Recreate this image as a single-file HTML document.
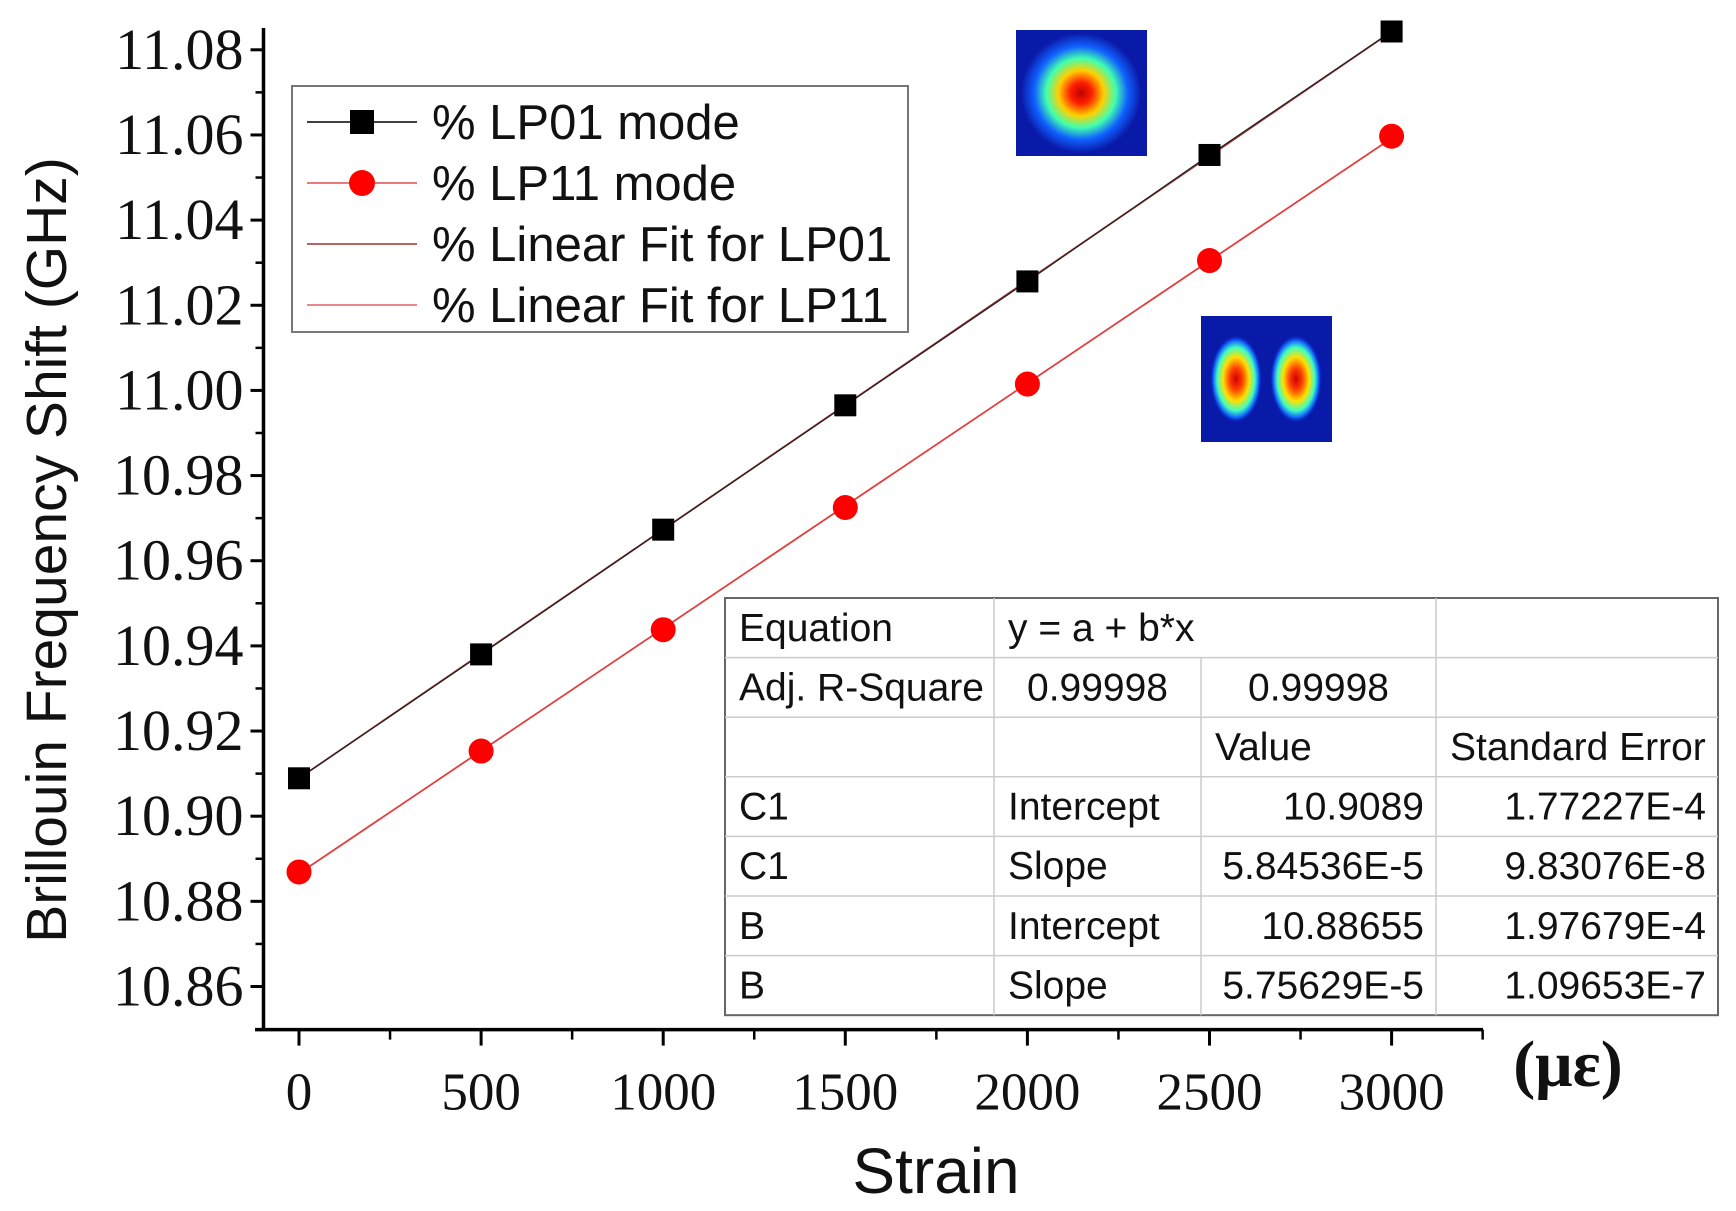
<!DOCTYPE html>
<html><head><meta charset="utf-8"><style>
body{margin:0;background:#fff;}
svg{display:block;}
</style></head><body>
<svg id="chart" width="1736" height="1211" viewBox="0 0 1736 1211" xmlns="http://www.w3.org/2000/svg">
<defs>
<radialGradient id="g01" cx="50%" cy="50%" r="50%">
<stop offset="0" stop-color="#c00000"/><stop offset="0.18" stop-color="#ff2000"/><stop offset="0.38" stop-color="#ffd000"/><stop offset="0.58" stop-color="#40ffb0"/><stop offset="0.78" stop-color="#1060ff"/><stop offset="1" stop-color="#0a1aa8"/>
</radialGradient>
<radialGradient id="g11" cx="50%" cy="50%" r="50%">
<stop offset="0" stop-color="#d00000"/><stop offset="0.25" stop-color="#ff4000"/><stop offset="0.5" stop-color="#ffe000"/><stop offset="0.72" stop-color="#40ffc0"/><stop offset="0.88" stop-color="#1060ff"/><stop offset="1" stop-color="#0a1aa8" stop-opacity="0"/>
</radialGradient>
</defs>
<g id="axes"></g>
<g id="marks"></g>
<text x="0" y="0" transform="translate(66,550) rotate(-90)" text-anchor="middle" font-family="Liberation Sans, sans-serif" font-size="57" fill="#111">Brillouin Frequency Shift (GHz)</text>
<text x="936" y="1193" text-anchor="middle" font-family="Liberation Sans, sans-serif" font-size="64" fill="#111">Strain</text>
<text x="1568" y="1086" text-anchor="middle" font-family="Liberation Serif, serif" font-weight="bold" font-size="66" fill="#111">(με)</text>
<g>
<rect x="1016" y="30" width="131" height="126" fill="#0a1aa8"/>
<circle cx="1081" cy="93" r="60" fill="url(#g01)"/>
</g>
<g>
<rect x="1201" y="316" width="131" height="126" fill="#0a1aa8"/>
<ellipse cx="1236" cy="379" rx="26" ry="44" fill="url(#g11)"/>
<ellipse cx="1296" cy="379" rx="26" ry="44" fill="url(#g11)"/>
</g>
<g font-family="Liberation Sans, sans-serif" font-size="49" fill="#111">
<rect x="292" y="86" width="616" height="246" fill="#fff" stroke="#777" stroke-width="2"/>
<line x1="307" y1="122" x2="417" y2="122" stroke="#000" stroke-width="1.5"/>
<rect x="350" y="110" width="24" height="24" fill="#000"/>
<text x="432" y="139">% LP01 mode</text>
<line x1="307" y1="183" x2="417" y2="183" stroke="#e05050" stroke-width="1.5"/>
<circle cx="362" cy="183" r="13" fill="#ff0000"/>
<text x="432" y="200">% LP11 mode</text>
<line x1="307" y1="244" x2="417" y2="244" stroke="#a03030" stroke-width="1.5"/>
<text x="432" y="261">% Linear Fit for LP01</text>
<line x1="307" y1="305" x2="417" y2="305" stroke="#e06060" stroke-width="1.5"/>
<text x="432" y="322">% Linear Fit for LP11</text>
</g>
<g id="table" font-family="Liberation Sans, sans-serif" font-size="39" fill="#111"></g>
</svg>
<script>
const xValues=[0,500,1000,1500,2000,2500,3000];
const lp01Values=[10.9089,10.9380,10.9673,10.9965,11.0256,11.0553,11.0843];
const lp11Values=[10.8869,10.9153,10.9438,10.9725,11.0015,11.0305,11.0597];
const fit01=[10.9089,5.84536e-5];
const fit11=[10.88655,5.75629e-5];
const xTicks=[0,500,1000,1500,2000,2500,3000];
const yTicks=[10.86,10.88,10.90,10.92,10.94,10.96,10.98,11.00,11.02,11.04,11.06,11.08];
const tableRows=[["Equation","y = a + b*x","",""],["Adj. R-Square","0.99998","0.99998",""],["","","Value","Standard Error"],["C1","Intercept","10.9089","1.77227E-4"],["C1","Slope","5.84536E-5","9.83076E-8"],["B","Intercept","10.88655","1.97679E-4"],["B","Slope","5.75629E-5","1.09653E-7"]];
const NS="http://www.w3.org/2000/svg";
function xs(v){return 299+(v-0)*(1391.6-299)/3000;}
function ys(v){return 986.5-(v-10.86)*(986.5-49.8)/0.22;}
function mk(tag,attrs,parent,text){const el=document.createElementNS(NS,tag);for(const k in attrs)el.setAttribute(k,attrs[k]);if(text!==undefined)el.textContent=text;parent.appendChild(el);return el;}
const ax=document.getElementById('axes');
const axisY=1029.6, axisX=263.5;
let e=mk('line',{x1:axisX,y1:28,x2:axisX,y2:axisY+1,stroke:'#000','stroke-width':3.5},ax);


e=mk('line',{x1:255,y1:axisY,x2:1483,y2:axisY,stroke:'#000','stroke-width':3.5},ax);


yTicks.forEach(t=>{const y=ys(t);
 e=mk('line',{x1:axisX-13,y1:y,x2:axisX,y2:y,stroke:'#000','stroke-width':3},ax);
 
 
 e=mk('text',{x:axisX-20,y:y+19,'text-anchor':'end','font-family':'Liberation Serif, serif','font-size':58,fill:'#111'},ax,t.toFixed(2));
 
 
 const ym=ys(t+0.01);
 if(t < 11.07){e=mk('line',{x1:axisX-8,y1:ym,x2:axisX,y2:ym,stroke:'#000','stroke-width':2.5},ax);
 
 }
});
xTicks.forEach(t=>{const x=xs(t);
 e=mk('line',{x1:x,y1:axisY,x2:x,y2:axisY+16,stroke:'#000','stroke-width':3},ax);
 
 
 e=mk('text',{x:x,y:axisY+80,'text-anchor':'middle','font-family':'Liberation Serif, serif','font-size':53,fill:'#111'},ax,String(t));
 
 
 const m=t+250; const xm=xs(m);
 e=mk('line',{x1:xm,y1:axisY,x2:xm,y2:axisY+10,stroke:'#000','stroke-width':2.5},ax);
 
 
});
const mg=document.getElementById('marks');
e=mk('line',{x1:xs(0),y1:ys(fit01[0]),x2:xs(3000),y2:ys(fit01[0]+fit01[1]*3000),stroke:'#a03030','stroke-width':1.8},mg);


e=mk('polyline',{points:xValues.map((x,i)=>xs(x)+','+ys(lp01Values[i])).join(' '),fill:'none',stroke:'#222','stroke-width':1.2},mg);


e=mk('line',{x1:xs(0),y1:ys(fit11[0]),x2:xs(3000),y2:ys(fit11[0]+fit11[1]*3000),stroke:'#e04040','stroke-width':1.8},mg);


xValues.forEach((x,i)=>{
 e=mk('rect',{x:xs(x)-11,y:ys(lp01Values[i])-11,width:22,height:22,fill:'#000'},mg);
 
 
 e=mk('circle',{cx:xs(x),cy:ys(lp11Values[i]),r:12.5,fill:'#ff0000'},mg);
 
 
});
const tb=document.getElementById('table');
const cols=[725,994,1201,1436,1718], top0=598, rh=59.6;
mk('rect',{x:725,y:top0,width:993,height:rh*7,fill:'#fff',stroke:'#666','stroke-width':2},tb);
for(let r=1;r<7;r++)mk('line',{x1:725,y1:top0+r*rh,x2:1718,y2:top0+r*rh,stroke:'#ccc','stroke-width':1.5},tb);
[994,1201,1436].forEach((c,i)=>mk('line',{x1:c,y1:i==1?top0+rh:top0,x2:c,y2:top0+rh*7,stroke:'#ccc','stroke-width':1.5},tb));
tableRows.forEach((row,r)=>row.forEach((txt,c)=>{if(!txt)return;
 let x,anchor='start';
 if(r===1&&c>0){x=(cols[c]+cols[c+1])/2;anchor='middle';}
 else if(c<2||r===0||r===2){x=cols[c]+14;}
 else {x=cols[c+1]-12;anchor='end';}
 e=mk('text',{x:x,y:top0+r*rh+rh/2+13,'text-anchor':anchor},tb,txt);
 
 
}));
</script>
</body></html>
